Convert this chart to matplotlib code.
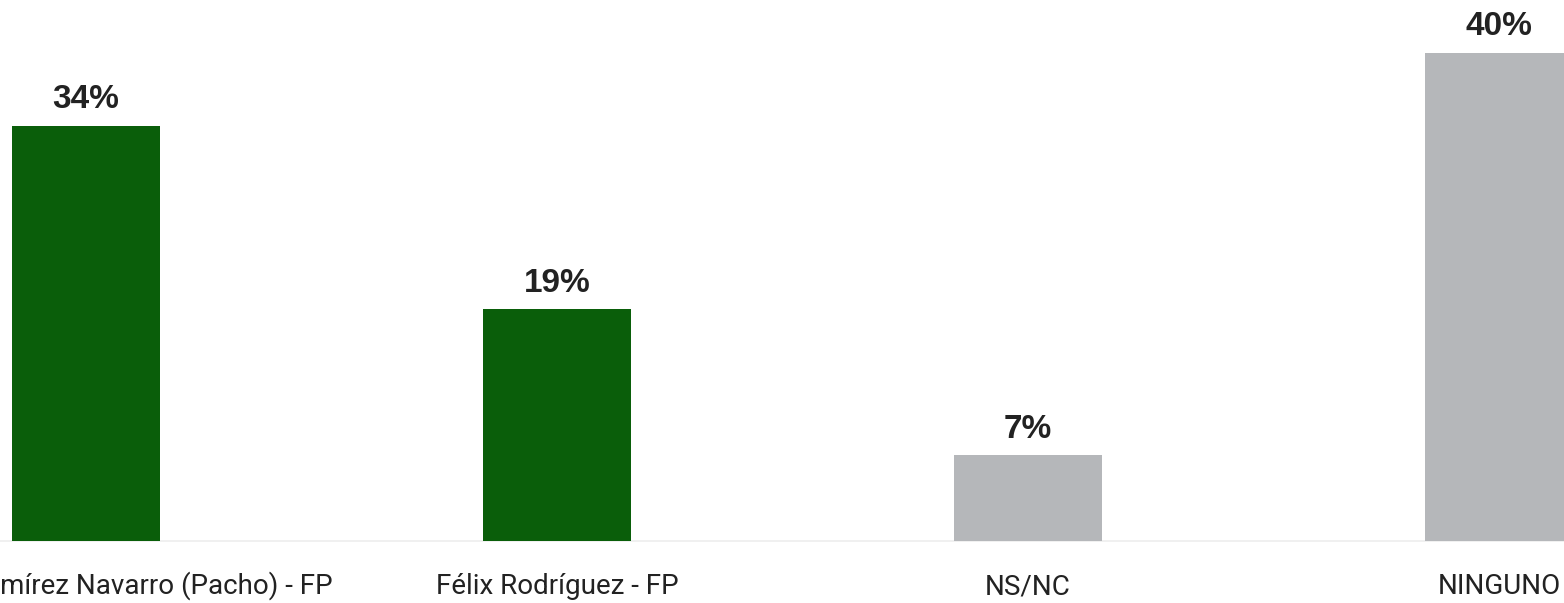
import matplotlib
matplotlib.use("Agg")
import matplotlib.pyplot as plt

categories = ["Francisco Ramírez Navarro (Pacho) - FP", "Félix Rodríguez - FP", "NS/NC", "NINGUNO"]
values = [34, 19, 7, 40]
value_labels = ["34%", "19%", "7%", "40%"]
colors = ["#0a5e0a", "#0a5e0a", "#b5b7ba", "#b5b7ba"]

fig = plt.figure(figsize=(15.64, 6.03), dpi=100)
ax = fig.add_axes([0, 0, 1, 1])
ax.set_xlim(-0.1826, 3.138)
ax.set_ylim(-5.08, 44.3)
ax.axis("off")

x = list(range(len(categories)))
ax.axhline(0, color="#ededed", lw=1.2, zorder=0)
ax.bar(x, values, width=0.314, color=colors, zorder=2)

for xi, v, lab in zip(x, values, value_labels):
    ax.annotate(lab, (xi, v), xytext=(0, 12.5), textcoords="offset points",
                ha="center", va="baseline", fontsize=24, fontweight="bold",
                family="Liberation Sans", color="#222222")

for xi, cat in zip(x, categories):
    ax.text(xi, -4.35, cat, ha="center", va="baseline", fontsize=20,
            family="Roboto", color="#222222")

fig.savefig("out.png", dpi=100)
